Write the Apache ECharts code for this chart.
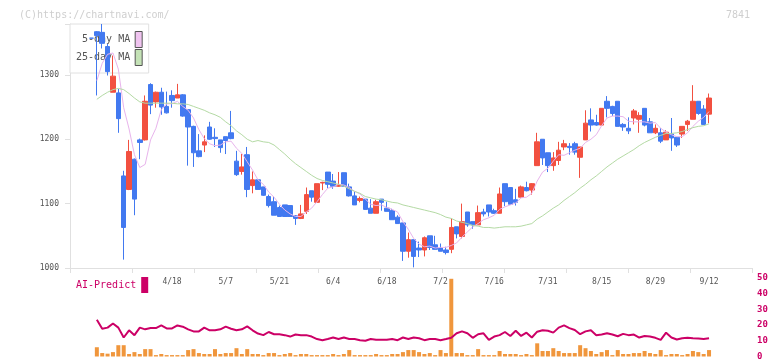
<!DOCTYPE html>
<html><head><meta charset="utf-8">
<script src="https://cdn.jsdelivr.net/npm/echarts@6/dist/echarts.min.js"></script>
<style>html,body{margin:0;padding:0;background:#fff}#c{width:772px;height:361px}</style>
</head><body><div id="c"></div>
<script>
const dates = ['3/28','3/31','4/1','4/2','4/3','4/4','4/7','4/8','4/9','4/10','4/11','4/14','4/15','4/16','4/17','4/18','4/21','4/22','4/23','4/24','4/25','4/28','4/30','5/1','5/2','5/7','5/8','5/9','5/12','5/13','5/14','5/15','5/16','5/19','5/20','5/21','5/22','5/23','5/26','5/27','5/28','5/29','5/30','6/2','6/3','6/4','6/5','6/6','6/9','6/10','6/11','6/12','6/13','6/16','6/17','6/18','6/19','6/20','6/23','6/24','6/25','6/26','6/27','6/30','7/1','7/2','7/3','7/4','7/7','7/8','7/9','7/10','7/11','7/14','7/15','7/16','7/17','7/18','7/22','7/23','7/24','7/25','7/28','7/29','7/30','7/31','8/1','8/4','8/5','8/6','8/7','8/8','8/12','8/13','8/14','8/15','8/18','8/19','8/20','8/21','8/22','8/25','8/26','8/27','8/28','8/29','9/1','9/2','9/3','9/4','9/5','9/8','9/9','9/10','9/11','9/12'];
const tickLabels = ['4/18','5/7','5/21','6/4','6/18','7/2','7/16','7/31','8/15','8/29','9/12'];
const priceTicks = [1000,1100,1200,1300];

const opens  = [1357,1367,1366,1344,1273,1272,1143,1122,1169,1199,1199,1285,1258,1273,1251,1268,1264,1269,1246,1220,1182,1191,1219,1203,1199,1204,1210,1166,1150,1176,1128,1137,1126,1111,1103,1094,1098,1097,1081,1077,1088,1120,1102,1132,1149,1135,1127,1148,1126,1112,1105,1107,1093,1085,1107,1093,1089,1079,1070,1026,1044,1031,1028,1050,1036,1031,1028,1029,1064,1049,1087,1072,1067,1087,1098,1089,1085,1131,1125,1106,1110,1125,1121,1159,1200,1179,1159,1167,1188,1189,1193,1172,1199,1230,1226,1222,1259,1251,1259,1223,1217,1233,1231,1248,1227,1210,1210,1199,1208,1203,1208,1223,1231,1259,1247,1239];
const closes = [1357,1361,1349,1305,1298,1232,1063,1181,1107,1195,1259,1253,1273,1250,1241,1260,1269,1236,1219,1179,1173,1196,1200,1201,1187,1198,1201,1145,1157,1122,1137,1122,1113,1097,1082,1080,1080,1080,1077,1084,1114,1110,1131,1133,1130,1127,1129,1127,1112,1098,1108,1091,1085,1103,1102,1088,1075,1069,1026,1044,1018,1028,1047,1032,1029,1026,1024,1063,1053,1072,1067,1067,1086,1084,1087,1085,1115,1103,1099,1102,1126,1120,1131,1196,1171,1159,1171,1183,1193,1187,1180,1188,1225,1222,1222,1248,1248,1240,1220,1219,1213,1244,1237,1222,1210,1217,1197,1211,1202,1191,1220,1228,1259,1240,1223,1264];
const lows   = [1357,1268,1341,1299,1273,1210,1013,1121,1082,1169,1198,1239,1249,1238,1240,1249,1264,1235,1159,1157,1172,1180,1199,1188,1179,1177,1200,1143,1145,1110,1116,1122,1112,1094,1082,1080,1080,1080,1067,1076,1084,1103,1101,1121,1124,1123,1126,1126,1111,1098,1102,1091,1085,1085,1089,1088,1075,1069,1011,1016,1001,1017,1018,1028,1029,1026,1021,1023,1046,1046,1064,1061,1067,1080,1080,1084,1085,1096,1099,1097,1110,1119,1114,1159,1160,1149,1151,1160,1183,1176,1176,1140,1199,1212,1221,1222,1234,1236,1220,1213,1208,1223,1210,1220,1210,1208,1194,1199,1182,1188,1202,1213,1231,1238,1222,1225];
const highs  = [1357,1368,1379,1348,1330,1278,1151,1199,1170,1201,1268,1287,1274,1280,1274,1276,1286,1270,1247,1221,1208,1206,1227,1217,1199,1204,1244,1182,1177,1188,1150,1137,1126,1114,1111,1097,1098,1097,1082,1098,1125,1120,1131,1134,1149,1146,1149,1148,1131,1119,1111,1107,1107,1106,1107,1103,1092,1082,1070,1055,1044,1041,1049,1050,1050,1038,1033,1077,1064,1100,1087,1072,1097,1092,1098,1092,1125,1131,1125,1123,1128,1134,1132,1210,1200,1179,1180,1196,1199,1194,1196,1188,1245,1248,1238,1248,1267,1252,1259,1225,1234,1247,1242,1248,1233,1223,1217,1214,1233,1203,1220,1230,1284,1259,1253,1271];

const ma5  = [null,1291,1318,1332,1334,1309,1249,1216,1176,1156,1161,1199,1217,1246,1255,1255,1259,1251,1245,1233,1215,1201,1193,1190,1191,1196,1197,1186,1178,1165,1152,1137,1130,1118,1110,1099,1090,1084,1080,1080,1087,1093,1103,1114,1124,1126,1130,1129,1125,1119,1115,1107,1099,1097,1098,1094,1091,1087,1072,1060,1046,1037,1033,1034,1031,1032,1032,1035,1039,1048,1056,1064,1069,1075,1078,1082,1091,1095,1098,1101,1109,1110,1116,1135,1149,1155,1166,1176,1175,1179,1183,1186,1195,1200,1207,1221,1233,1236,1236,1235,1228,1227,1227,1227,1225,1226,1217,1211,1207,1204,1204,1210,1220,1228,1234,1243];
const ma25 = [null,1262,1268,1273,1277,1279,1277,1271,1264,1258,1256,1256,1256,1256,1256,1256,1255,1255,1254,1251,1248,1245,1241,1238,1234,1227,1221,1213,1207,1200,1196,1198,1196,1195,1191,1184,1177,1169,1162,1156,1150,1144,1139,1136,1134,1132,1130,1127,1123,1119,1116,1111,1109,1107,1106,1104,1102,1101,1098,1096,1094,1092,1090,1088,1086,1083,1079,1077,1073,1071,1069,1066,1065,1063,1063,1062,1063,1064,1064,1064,1065,1067,1069,1076,1081,1087,1093,1098,1105,1111,1117,1124,1130,1137,1143,1150,1157,1163,1169,1174,1179,1184,1190,1195,1199,1203,1206,1209,1209,1210,1212,1215,1218,1220,1221,1224];

const aiLine = [null,23.4,17.7,18.4,21,18.4,12.1,16.7,13.6,18.4,17.3,18.1,18.1,19.8,17.9,17.9,19.8,19,17.3,16,16,18.4,16.7,16.7,17.3,19,17.7,16.7,17.3,19.2,16.7,14.6,13.6,15.6,14.2,14.2,13.6,12.7,14,13.6,13.6,12.7,11.1,10.4,11.1,12.1,11.1,12.1,11.1,11.1,10.4,10,11.1,10.6,10.6,10.6,11.1,10.4,12.1,11.1,12.1,11.6,10.4,11.1,11.1,10.4,11.1,11.9,14.8,16,14.8,11.9,14.2,14.8,10.6,12.7,13.6,15.6,13.1,16.4,13.1,15.2,12.1,15.8,16.7,16.4,15.2,18.4,19.8,18.1,16.9,14.2,16,16.7,13.6,14,14.8,14,12.9,14.4,13.6,14,12.1,13.1,12.7,11.9,10.6,15.2,12.1,10.8,11.6,11.9,11.6,11.4,11.1,11.6];
const aiBars = [null,5.9,2.2,1.8,2.8,7.2,7.2,1.6,2.8,1.6,4.7,4.7,0.9,1.6,0.9,0.9,0.9,0.9,4.1,4.7,2.2,1.6,1.6,4.7,1.6,2.2,2.2,5.3,1.6,4.7,1.6,1.6,0.9,2.2,2.2,0.9,1.6,2.2,0.9,1.6,1.6,0.9,0.9,0.9,0.9,1.6,0.9,1.6,4.1,0.9,0.9,0.9,0.9,1.6,0.9,0.9,1.6,1.6,2.8,4.1,4.1,2.8,1.6,2.2,0.9,4.1,2.2,49.5,2.2,2.2,0.9,0.9,4.7,0.9,0.9,0.9,3.5,1.6,1.6,1.6,0.9,1.6,0.9,8.4,3.5,3.5,5.3,3.5,2.2,2.2,2.2,7.2,5.3,3.5,1.6,2.8,4.1,0.9,4.1,1.6,1.6,2.2,2.2,3.5,2.2,1.6,4.1,0.9,1.6,1.6,0.9,1.6,3.5,2.8,1.6,4.1];

const PAD_L = 4, PAD_R = 8;
const padL = Array.from({length: PAD_L}, (_, i) => '_l' + i);
const padR = Array.from({length: PAD_R}, (_, i) => '_r' + i);
const cats = padL.concat(dates, padR);
function pad(arr, empty) {
  return Array(PAD_L).fill(empty).concat(arr, Array(PAD_R).fill(empty));
}
const candle = pad(dates.map((d, i) => [opens[i], closes[i], lows[i], highs[i]]), ['-','-','-','-']);

const MONO = "'DejaVu Sans Mono', 'Liberation Mono', monospace";
const chart = echarts.init(document.getElementById('c'));
chart.setOption({
  animation: false,
  backgroundColor: '#fff',
  title: [
    {text: '(C)https://chartnavi.com/', left: 14, top: 5, textStyle: {color: '#cfcfcf', fontSize: 10, fontWeight: 'normal', fontFamily: MONO}},
    {text: '7841', right: 17, top: 5, textStyle: {color: '#cfcfcf', fontSize: 10, fontWeight: 'normal', fontFamily: MONO}}
  ],
  legend: [
    {
      z: 1, orient: 'vertical', left: 70, top: 24, align: 'right', selectedMode: false,
      itemWidth: 7, itemHeight: 16, itemGap: 1, padding: [7, 6, 7, 6],
      backgroundColor: '#fff', borderColor: '#e0e0e0', borderWidth: 1,
      textStyle: {color: '#555', fontSize: 10, fontFamily: MONO},
      data: [
        {name: '5-day MA', icon: 'rect', itemStyle: {color: '#f0c4f0', borderColor: '#555', borderWidth: 1}},
        {name: '25-day MA', icon: 'rect', itemStyle: {color: '#c4e2b6', borderColor: '#555', borderWidth: 1}}
      ]
    },
    {
      orient: 'vertical', left: 76, top: 277, align: 'right', selectedMode: false,
      itemWidth: 7, itemHeight: 16, padding: 0,
      textStyle: {color: '#cc0066', fontSize: 10, fontFamily: MONO},
      data: [{name: 'AI-Predict', icon: 'rect', itemStyle: {color: '#cc0066'}}]
    }
  ],
  grid: [
    {left: 70, right: 20, top: 24, height: 244},
    {left: 70, right: 20, top: 278, height: 80}
  ],
  xAxis: [
    {
      type: 'category', gridIndex: 0, data: cats, boundaryGap: false,
      axisLine: {lineStyle: {color: '#e0e0e0'}},
      axisTick: {show: false},
      splitLine: {show: false},
      axisLabel: {
        interval: (idx, v) => tickLabels.indexOf(v) >= 0,
        color: '#555', fontSize: 8, fontFamily: MONO, margin: 10
      }
    },
    {
      type: 'category', gridIndex: 1, data: cats, boundaryGap: false, show: false
    },
    {
      type: 'value', gridIndex: 0, position: 'bottom', min: 0, max: 11, interval: 1,
      axisLine: {show: false}, axisLabel: {show: false}, splitLine: {show: false},
      axisTick: {show: true, length: 5, lineStyle: {color: '#e0e0e0'}}
    }
  ],
  yAxis: [
    {
      type: 'value', gridIndex: 0, min: 1000, max: 1379, interval: 100,
      axisLine: {show: true, lineStyle: {color: '#e0e0e0'}},
      axisTick: {show: true, length: 5, lineStyle: {color: '#e0e0e0'}},
      splitLine: {show: false},
      axisLabel: {
        color: '#555', fontSize: 8, fontFamily: MONO, margin: 11,
        formatter: v => priceTicks.indexOf(v) >= 0 ? String(v) : ''
      }
    },
    {
      type: 'value', gridIndex: 1, position: 'right', min: 0, max: 50, interval: 10,
      axisLine: {show: false}, axisTick: {show: false}, splitLine: {show: false},
      axisLabel: {color: '#cc0066', fontSize: 9, fontWeight: 'bold', fontFamily: MONO, margin: 5}
    }
  ],
  series: [
    {
      name: 'Price', type: 'candlestick', xAxisIndex: 0, yAxisIndex: 0, z: 2,
      barWidth: 5, data: candle,
      itemStyle: {color: '#f25040', color0: '#4279f0', borderColor: '#f25040', borderColor0: '#4279f0', borderWidth: 1}
    },
    {
      name: '5-day MA', type: 'line', xAxisIndex: 0, yAxisIndex: 0, z: 3,
      data: pad(ma5, null), symbol: 'none', connectNulls: false,
      lineStyle: {color: '#e8b4ec', width: 1}, itemStyle: {color: '#f0c4f0'}
    },
    {
      name: '25-day MA', type: 'line', xAxisIndex: 0, yAxisIndex: 0, z: 3,
      data: pad(ma25, null), symbol: 'none',
      lineStyle: {color: '#b4daa4', width: 1}, itemStyle: {color: '#c4e2b6'}
    },
    {
      name: 'AI-Bars', type: 'bar', xAxisIndex: 1, yAxisIndex: 1,
      data: pad(aiBars, null), barWidth: 4,
      itemStyle: {color: '#f0963c'}
    },
    {
      name: 'AI-Predict', type: 'line', xAxisIndex: 1, yAxisIndex: 1, z: 3,
      data: pad(aiLine, null), symbol: 'none',
      lineStyle: {color: '#cc0066', width: 2}, itemStyle: {color: '#cc0066'}
    }
  ]
});
</script></body></html>
